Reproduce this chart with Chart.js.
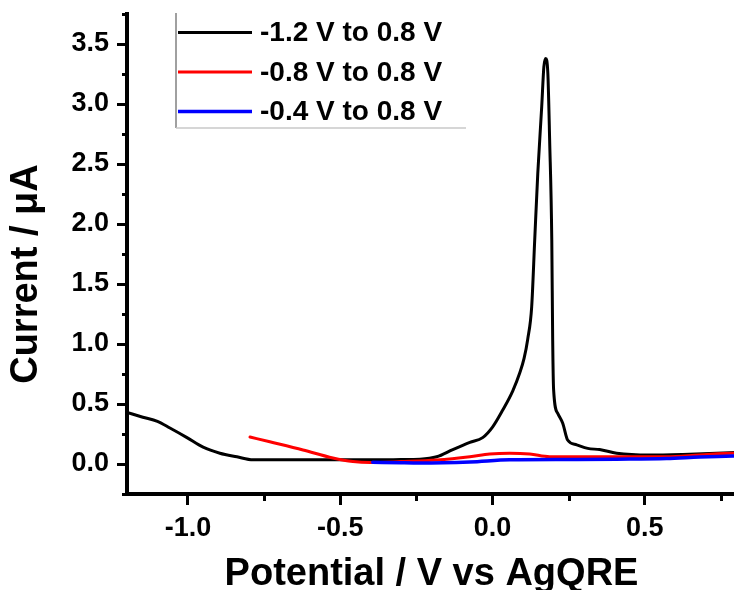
<!DOCTYPE html>
<html><head><meta charset="utf-8">
<script src="https://cdn.jsdelivr.net/npm/chart.js@4"></script>
<style>
html,body{margin:0;padding:0;background:#fff;overflow:hidden}
#wrap{width:734px;height:590px;overflow:hidden;position:relative;background:#fff}
canvas{display:block}
</style></head>
<body><div id="wrap"><canvas id="c" width="740" height="590" style="width:740px;height:590px"></canvas></div>
<script>
const seriesLabels = ['-1.2 V to 0.8 V', '-0.8 V to 0.8 V', '-0.4 V to 0.8 V'];
const seriesColors = ['#000000', '#ff0000', '#0000ff'];

const blackX = [-1.2, -1.148, -1.1, -1.059, -1.003, -0.95, -0.895, -0.839, -0.786, -0.7, -0.6, -0.5, -0.4, -0.3, -0.238, -0.183, -0.13, -0.074, -0.032, 0.001, 0.034, 0.067, 0.09, 0.104, 0.116, 0.129, 0.139, 0.149, 0.162, 0.169, 0.175, 0.182, 0.188, 0.195, 0.198, 0.201, 0.215, 0.231, 0.247, 0.277, 0.313, 0.352, 0.408, 0.516, 0.625, 0.736, 0.8];
const blackY = [0.43, 0.39, 0.355, 0.30, 0.22, 0.14, 0.09, 0.06, 0.035, 0.035, 0.035, 0.035, 0.035, 0.037, 0.04, 0.06, 0.12, 0.18, 0.22, 0.31, 0.45, 0.61, 0.76, 0.88, 1.04, 1.31, 1.87, 2.42, 2.98, 3.31, 3.38, 3.26, 2.70, 1.87, 1.03, 0.62, 0.42, 0.34, 0.20, 0.16, 0.13, 0.12, 0.09, 0.075, 0.08, 0.09, 0.095];

const redX = [-0.796, -0.731, -0.622, -0.524, -0.458, -0.4, -0.3, -0.183, -0.074, -0.009, 0.057, 0.123, 0.188, 0.254, 0.408, 0.572, 0.68, 0.79, 0.8];
const redY = [0.225, 0.185, 0.117, 0.05, 0.02, 0.012, 0.02, 0.033, 0.06, 0.083, 0.09, 0.083, 0.06, 0.06, 0.06, 0.06, 0.075, 0.09, 0.09];

const blueX = [-0.393, -0.3, -0.238, -0.074, 0.057, 0.254, 0.408, 0.572, 0.68, 0.79, 0.8];
const blueY = [0.015, 0.01, 0.008, 0.017, 0.035, 0.038, 0.04, 0.045, 0.058, 0.067, 0.068];

const xMajorTicks = [-1.0, -0.5, 0.0, 0.5];
const xMinorTicks = [-0.75, -0.25, 0.25, 0.75];
const yMajorTicks = [0.0, 0.5, 1.0, 1.5, 2.0, 2.5, 3.0, 3.5];
const yMinorTicks = [-0.25, 0.25, 0.75, 1.25, 1.75, 2.25, 2.75, 3.25, 3.75];

const xTitle = 'Potential / V vs AgQRE';
const yTitle = 'Current / \u03bcA';

const FONT = '"Liberation Sans", Arial, sans-serif';

function pts(xs, ys) { return xs.map((x, i) => ({x: x, y: ys[i]})); }

const extras = {
  id: 'extras',
  afterDraw(chart) {
    const ctx = chart.ctx;
    const xs = chart.scales.x, ys = chart.scales.y;
    const ca = chart.chartArea;
    ctx.save();
    // minor ticks
    ctx.strokeStyle = '#000';
    ctx.lineWidth = 3;
    ctx.beginPath();
    xMinorTicks.forEach(v => {
      const p = Math.round(xs.getPixelForValue(v)) + 0.5;
      ctx.moveTo(p, ca.bottom); ctx.lineTo(p, ca.bottom + 7);
    });
    yMinorTicks.forEach(v => {
      const p = Math.round(ys.getPixelForValue(v)) + 0.5;
      ctx.moveTo(ca.left - 5, p); ctx.lineTo(ca.left, p);
    });
    ctx.stroke();

    // axis titles
    ctx.fillStyle = '#000';
    ctx.font = 'bold 38px ' + FONT;
    ctx.textAlign = 'center';
    ctx.textBaseline = 'alphabetic';
    ctx.fillText(xTitle, (ca.left + ca.right) / 2, 585);
    ctx.save();
    ctx.translate(37, 274);
    ctx.rotate(-Math.PI / 2);
    ctx.fillText(yTitle, 0, 0);
    ctx.restore();

    // legend
    const lx = 176, ly = 13, lw = 290, lh = 115;
    ctx.lineWidth = 1.5;
    ctx.strokeStyle = '#808080';
    ctx.beginPath(); ctx.moveTo(lx, ly); ctx.lineTo(lx, ly + lh); ctx.stroke();
    ctx.strokeStyle = '#c8c8c8';
    ctx.beginPath(); ctx.moveTo(lx, ly + lh); ctx.lineTo(lx + lw, ly + lh); ctx.stroke();
    ctx.font = 'bold 28px ' + FONT;
    ctx.textAlign = 'left';
    ctx.textBaseline = 'middle';
    chart.data.datasets.forEach((ds, i) => {
      const yy = 32.5 + i * 39.5;
      ctx.strokeStyle = ds.borderColor;
      ctx.lineWidth = ds.borderWidth;
      ctx.beginPath(); ctx.moveTo(178, yy); ctx.lineTo(252, yy); ctx.stroke();
      ctx.fillStyle = '#000';
      ctx.fillText(ds.label, 260, yy + 1);
    });
    ctx.restore();
  }
};

new Chart(document.getElementById('c'), {
  type: 'line',
  data: {
    datasets: [
      {label: seriesLabels[0], data: pts(blackX, blackY), borderColor: seriesColors[0], borderWidth: 3, order: 3},
      {label: seriesLabels[1], data: pts(redX, redY), borderColor: seriesColors[1], borderWidth: 3, order: 2},
      {label: seriesLabels[2], data: pts(blueX, blueY), borderColor: seriesColors[2], borderWidth: 3.5, order: 1}
    ]
  },
  options: {
    responsive: false,
    animation: false,
    events: [],
    layout: {padding: {top: 14, right: 4, left: 0, bottom: 0}},
    elements: {
      point: {radius: 0},
      line: {cubicInterpolationMode: 'monotone', fill: false, borderCapStyle: 'round', borderJoinStyle: 'round'}
    },
    plugins: {legend: {display: false}, tooltip: {enabled: false}},
    scales: {
      x: {
        type: 'linear', min: -1.2, max: 0.8,
        afterBuildTicks: s => { s.ticks = xMajorTicks.map(v => ({value: v})); },
        afterFit: s => { s.height = 96; s.paddingLeft = 0; s.paddingRight = 0; },
        ticks: {
          callback: v => v.toFixed(1),
          color: '#000', padding: 7, maxRotation: 0,
          font: {family: FONT, size: 27, weight: 'bold'}
        },
        grid: {display: true, drawOnChartArea: false, drawTicks: true, tickLength: 11, tickColor: '#000', tickWidth: 3, color: '#000'},
        border: {display: true, color: '#000', width: 4}
      },
      y: {
        type: 'linear', min: -0.25, max: 3.75,
        afterBuildTicks: s => { s.ticks = yMajorTicks.map(v => ({value: v})); },
        afterFit: s => { s.width = 127; s.paddingTop = 0; s.paddingBottom = 0; },
        ticks: {
          callback: v => v.toFixed(1),
          color: '#000', padding: 8,
          font: {family: FONT, size: 27, weight: 'bold'}
        },
        grid: {display: true, drawOnChartArea: false, drawTicks: true, tickLength: 10, tickColor: '#000', tickWidth: 3, color: '#000'},
        border: {display: true, color: '#000', width: 4}
      }
    }
  },
  plugins: [extras]
});
</script>
</body></html>
